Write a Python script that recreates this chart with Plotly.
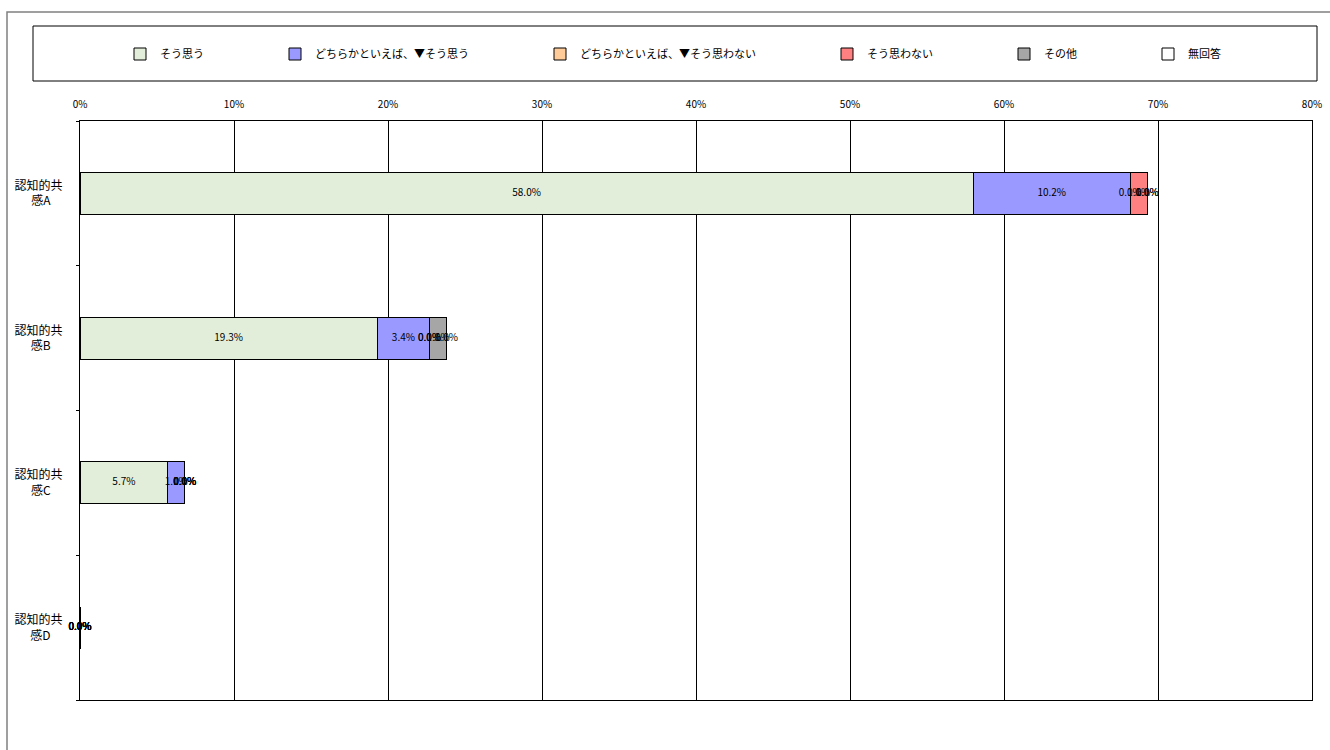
import plotly.graph_objects as go

categories = ["認知的共感A", "認知的共感B", "認知的共感C", "認知的共感D"]
category_labels = ["認知的共<br>感A\u3000", "認知的共<br>感B\u3000", "認知的共<br>感C\u3000", "認知的共<br>感D\u3000"]
series_names = ["そう思う", "どちらかといえば、▼そう思う", "どちらかといえば、▼そう思わない",
                "そう思わない", "その他", "無回答"]
series_colors = ["#e3eeda", "#9999ff", "#ffcc99", "#ff8080", "#a6a6a6", "#ffffff"]

# percent values per series, in category order A..D
sou_omou = [58.0, 19.3, 5.7, 0.0]
dochira_omou = [10.2, 3.4, 1.1, 0.0]
dochira_omowanai = [0.0, 0.0, 0.0, 0.0]
sou_omowanai = [1.1, 0.0, 0.0, 0.0]
sonota = [0.0, 1.1, 0.0, 0.0]
mukaitou = [0.0, 0.0, 0.0, 0.0]

series_values = [sou_omou, dochira_omou, dochira_omowanai, sou_omowanai, sonota, mukaitou]

x_ticks = [0, 10, 20, 30, 40, 50, 60, 70, 80]
x_ticktext = [f"{t}%" for t in x_ticks]

font_family = "Noto Sans CJK JP, sans-serif"
legend_pad = "\u3000" * 6  # widen legend entries, Excel spreads them out

fig = go.Figure()
for name, vals, col in zip(series_names, series_values, series_colors):
    fig.add_trace(go.Bar(
        y=categories, x=vals, name=name + legend_pad, orientation="h",
        marker=dict(color=col, line=dict(color="black", width=1)),
        hoverinfo="skip",
    ))

# data labels centred on each segment (zero segments too, like Excel)
start = [0.0] * len(categories)
for vals in series_values:
    mids = [s + v / 2 for s, v in zip(start, vals)]
    fig.add_trace(go.Scatter(
        y=categories, x=mids, mode="text",
        text=[f"{v:.1f}%" for v in vals], textposition="middle center",
        textfont=dict(color="black", size=10, family=font_family),
        showlegend=False, cliponaxis=False, hoverinfo="skip",
    ))
    start = [s + v for s, v in zip(start, vals)]

# plot area in pixels: x 80..1312, y 121..700
def px(x):
    return (x - 80) / 1232

def py(y):
    return (700 - y) / 579

fig.update_layout(
    barmode="stack",
    bargap=0.71,
    width=1330, height=750,
    margin=dict(l=80, r=18, t=121, b=50, autoexpand=False),
    paper_bgcolor="white", plot_bgcolor="white",
    font=dict(family=font_family, size=12, color="black"),
    showlegend=True,
    legend=dict(orientation="h", x=px(706), xanchor="center", y=py(54), yanchor="middle",
                font=dict(size=11), traceorder="normal", itemwidth=30),
    xaxis=dict(side="top", range=[0, 80], tickvals=x_ticks, ticktext=x_ticktext,
               showgrid=True, gridcolor="black", gridwidth=1,
               showline=True, linecolor="black", mirror=True, zeroline=False,
               tickfont=dict(size=10), ticks="", ticklabelstandoff=8),
    yaxis=dict(autorange="reversed", categoryorder="array", categoryarray=categories,
               tickvals=categories, ticktext=category_labels,
               showline=True, linecolor="black", mirror=True,
               ticks="outside", tickson="boundaries", ticklen=3, tickcolor="black",
               tickfont=dict(size=12), showgrid=False, ticklabelstandoff=14),
    shapes=[
        dict(type="rect", xref="paper", yref="paper", x0=px(7), x1=px(1340), y0=py(760), y1=py(12),
             line=dict(color="#808080", width=1.5), fillcolor="rgba(0,0,0,0)", layer="below"),
        dict(type="rect", xref="paper", yref="paper", x0=px(33), x1=px(1317), y0=py(81), y1=py(26),
             line=dict(color="black", width=1), fillcolor="rgba(0,0,0,0)"),
    ],
)

fig.write_html("out.html", config={"displayModeBar": False},
               post_script="document.body.style.margin='0';")
